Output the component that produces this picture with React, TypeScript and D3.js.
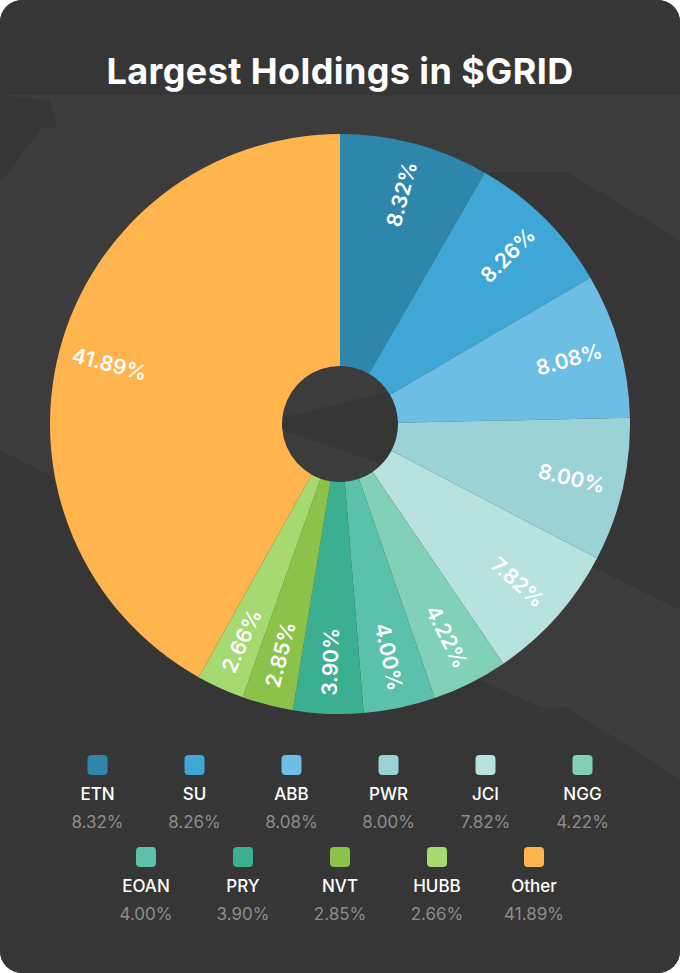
import React from 'react'
import * as d3 from 'd3'

// holdings, in the order they go round the pie
const tickers = ['ETN', 'SU', 'ABB', 'PWR', 'JCI', 'NGG', 'EOAN', 'PRY', 'NVT', 'HUBB', 'Other']
const weights = [8.32, 8.26, 8.08, 8.0, 7.82, 4.22, 4.0, 3.9, 2.85, 2.66, 41.89]
const colors = ['#2e86ab', '#3fa6d6', '#6dbee4', '#9bd2d5', '#b8e2de', '#80d1b8', '#5cc1aa', '#3daf91', '#8bc34a', '#a6d96f', '#ffb44d']
const legendRows = [tickers.slice(0, 6), tickers.slice(6)]

const W = 680
const H = 973
const cx = 340
const cy = 424
const outerR = 290
const innerR = 58
const labelR = 238

// faint map shapes behind the chart
const bgLight = '#3c3c3c'
const bgDark = '#363636'
const darkShapes = [
    [[0, 95], [50, 100], [57, 127], [42, 128], [0, 183]],
    [[480, 172], [567, 172], [680, 240], [680, 610], [593, 567], [378, 463], [282, 430], [160, 440], [160, 418], [282, 418], [398, 389]],
    [[0, 450], [55, 478], [300, 560], [480, 680], [543, 708], [567, 707], [680, 780], [680, 973], [0, 973]],
]

const fmt = (v: number) => v.toFixed(2) + '%'

const App = () => {
    const data = tickers.map((t, i) => ({ t, v: weights[i], c: colors[i] }))
    const pie = d3.pie<{ t: string, v: number, c: string }>().sort(null).value(d => d.v)
    const arcs = pie(data)
    const arc = d3.arc<d3.PieArcDatum<any>>().innerRadius(innerR).outerRadius(outerR)
    const labelArc = d3.arc<d3.PieArcDatum<any>>().innerRadius(labelR).outerRadius(labelR)
    const line = d3.line()

    const colorOf = d3.scaleOrdinal<string, string>().domain(tickers).range(colors)
    const valueOf = (t: string) => weights[tickers.indexOf(t)]

    const step = 97
    const rowY = [755, 847]

    return (
        <svg width={W} height={H} style={{ position: 'absolute', left: 0, top: 0, display: 'block' }}
            fontFamily="Inter, 'Noto Sans', sans-serif">
            <defs>
                <clipPath id="card">
                    <rect x={0} y={0} width={W} height={H} rx={22} />
                </clipPath>
            </defs>
            <rect width={W} height={H} fill="#ffffff" />
            <g clipPath="url(#card)">
                <rect width={W} height={H} fill={bgLight} />
                <rect width={W} height={95} fill={bgDark} />
                {darkShapes.map((s, i) => (
                    <path key={i} d={line(s as [number, number][]) + 'Z'} fill={bgDark} />
                ))}
            </g>

            <text x={cx} y={84} textAnchor="middle" fill="#ffffff" fontSize={36} fontWeight={700} letterSpacing={0.4}>
                Largest Holdings in $GRID
            </text>

            <g transform={`translate(${cx},${cy})`}>
                {arcs.map(a => (
                    <path key={a.data.t} d={arc(a) ?? ''} fill={a.data.c} />
                ))}
                {arcs.map(a => {
                    const [x, y] = labelArc.centroid(a)
                    const mid = ((a.startAngle + a.endAngle) / 2) * 180 / Math.PI
                    const rot = mid <= 180 ? mid - 90 : mid + 90
                    return (
                        <text key={a.data.t} transform={`translate(${x},${y}) rotate(${rot})`}
                            textAnchor="middle" dominantBaseline="central" fill="#ffffff"
                            fontSize={21} fontWeight={600}>
                            {fmt(a.data.v)}
                        </text>
                    )
                })}
            </g>

            {legendRows.map((row, r) => (
                <g key={r}>
                    {row.map((t, i) => {
                        const x = cx + (i - (row.length - 1) / 2) * step
                        const y = rowY[r]
                        return (
                            <g key={t}>
                                <rect x={x - 10} y={y} width={20} height={20} rx={4} fill={colorOf(t)} />
                                <text x={x} y={y + 45} textAnchor="middle" fill="#ffffff" fontSize={17} fontWeight={500}>{t}</text>
                                <text x={x} y={y + 73} textAnchor="middle" fill="#8c8c8c" fontSize={17}>{fmt(valueOf(t))}</text>
                            </g>
                        )
                    })}
                </g>
            ))}
        </svg>
    )
}

export default App
